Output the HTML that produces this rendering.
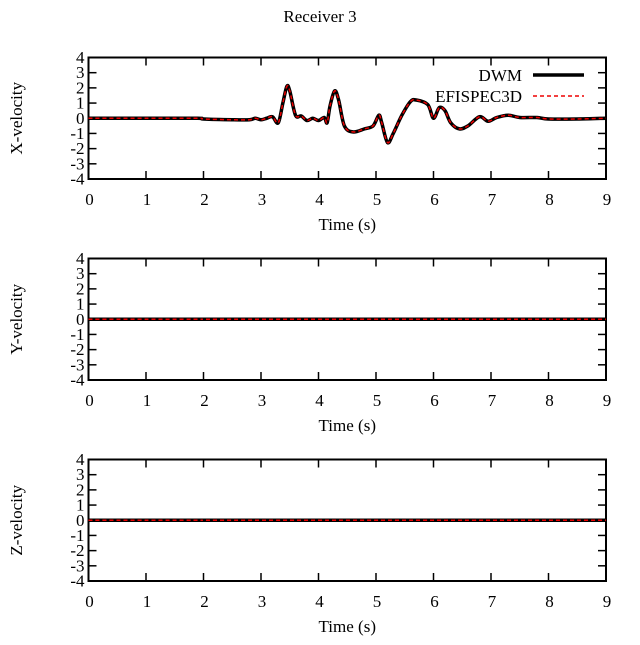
<!DOCTYPE html>
<html><head><meta charset="utf-8"><style>
body{margin:0;background:#fff}
svg text{font-family:"Liberation Serif",serif;font-size:17px;fill:#000}
</style></head><body>
<svg id="c" width="640" height="640" xmlns="http://www.w3.org/2000/svg">
<text x="320" y="22" text-anchor="middle">Receiver 3</text>
</svg>
<script>
const panelNames=["X-velocity","Y-velocity","Z-velocity"];
const xTicks=[0,1,2,3,4,5,6,7,8,9];
const yTicks=[4,3,2,1,0,-1,-2,-3,-4];
const times=[0,1,1.9,2,2.5,2.8,2.9,3.0,3.1,3.2,3.3,3.38,3.45,3.5,3.6,3.7,3.8,3.9,4.0,4.1,4.15,4.2,4.28,4.35,4.45,4.6,4.8,4.95,5.05,5.1,5.2,5.3,5.45,5.6,5.7,5.9,6.0,6.1,6.2,6.3,6.45,6.6,6.8,6.95,7.1,7.3,7.5,7.8,8,8.5,9];
const xVel=[0,0,0,-0.05,-0.1,-0.1,0,-0.1,0,0.1,-0.3,1,2.1,1.8,0.2,0.15,-0.15,0,-0.15,0.05,-0.3,0.8,1.8,1.2,-0.5,-0.9,-0.7,-0.5,0.2,-0.3,-1.6,-1.0,0.2,1.1,1.2,0.9,0,0.7,0.5,-0.3,-0.7,-0.5,0.1,-0.2,0.05,0.2,0.05,0.05,-0.05,-0.05,0];
const yVel=times.map(()=>0);
const zVel=times.map(()=>0);
const series=[xVel,yVel,zVel];
const svg=document.getElementById('c');
const NS="http://www.w3.org/2000/svg";
function mk(tag,attrs,txt){const e=document.createElementNS(NS,tag);for(const k in attrs)e.setAttribute(k,attrs[k]);if(txt!==undefined)e.textContent=txt;svg.appendChild(e);return e;}
function smooth(P){let d='M'+P[0][0]+','+P[0][1];for(let i=0;i<P.length-1;i++){const p0=P[i-1]||P[i],p1=P[i],p2=P[i+1],p3=P[i+2]||p2;const c1x=p1[0]+(p2[0]-p0[0])/6,c1y=p1[1]+(p2[1]-p0[1])/6,c2x=p2[0]-(p3[0]-p1[0])/6,c2y=p2[1]-(p3[1]-p1[1])/6;d+=' C'+c1x+','+c1y+' '+c2x+','+c2y+' '+p2[0]+','+p2[1];}return d;}
const L=88.5,R=606;
const sx=t=>L+(R-L)*t/9;
for(let p=0;p<3;p++){
  const top=57.5+p*201,bot=179+p*201;
  const sy=v=>(top+bot)/2-(bot-top)/8*v;
  const fr=mk('rect',{x:L,y:top,width:R-L,height:bot-top,fill:'none',stroke:'#000','stroke-width':2});
  
  
  xTicks.forEach(t=>{
    mk('line',{x1:sx(t),x2:sx(t),y1:bot,y2:bot-8,stroke:'#000','stroke-width':1.5});
    mk('line',{x1:sx(t),x2:sx(t),y1:top,y2:top+8,stroke:'#000','stroke-width':1.5});
    const tl=mk('text',{x:sx(t)+1,y:bot+26,'text-anchor':'middle'},String(t));
    
    
  });
  yTicks.forEach(v=>{
    mk('line',{x1:L,x2:L+8,y1:sy(v),y2:sy(v),stroke:'#000','stroke-width':1.5});
    mk('line',{x1:R,x2:R-8,y1:sy(v),y2:sy(v),stroke:'#000','stroke-width':1.5});
    const yl=mk('text',{x:L-4,y:sy(v)+5.5,'text-anchor':'end'},String(v));
    
    
  });
  const xt=mk('text',{x:(L+R)/2,y:bot+51,'text-anchor':'middle'},'Time (s)');
  
  
  const cy=(top+bot)/2;
  const yt=mk('text',{x:22,y:cy,'text-anchor':'middle',transform:'rotate(-90 22 '+cy+')'},panelNames[p]);
  
  
  const P=times.map((t,i)=>[sx(t),sy(series[p][i])]);
  const d=smooth(P);
  const l1=mk('path',{d:d,fill:'none',stroke:'#000','stroke-width':3.5,'stroke-linejoin':'round'});
  
  
  const l2=mk('path',{d:d,fill:'none',stroke:'#e00','stroke-width':1.5,'stroke-dasharray':'4,3','stroke-linejoin':'round'});
  
  
}
const lg1=mk('text',{x:522,y:81,'text-anchor':'end'},'DWM');


mk('line',{x1:533,x2:584,y1:75,y2:75,stroke:'#000','stroke-width':3.5});
const lg2=mk('text',{x:522,y:102,'text-anchor':'end'},'EFISPEC3D');


mk('line',{x1:533,x2:584,y1:96,y2:96,stroke:'#e00','stroke-width':1.5,'stroke-dasharray':'4,3'});
</script>
</body></html>
